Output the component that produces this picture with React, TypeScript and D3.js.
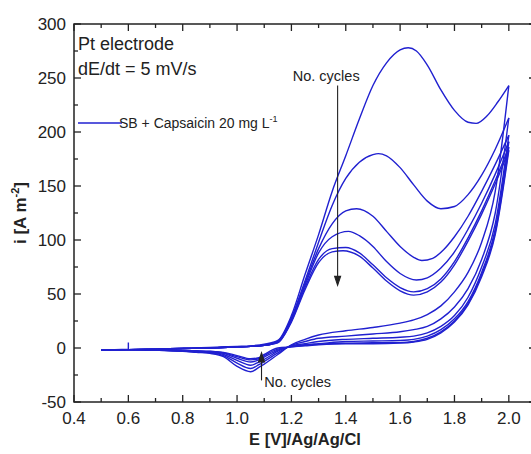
import * as d3 from 'd3';

// Cyclic voltammogram, Pt electrode, SB + Capsaicin 20 mg/L, 6 cycles
// each cycle: forward (anodic) and reverse (cathodic) branch, stored with ascending E
const start1 = [[0.6, 5], [0.6, -1], [0.55, -1.5], [0.5, -2]];

const fwd1 = [[0.5, -2], [0.6, -1.5], [0.7, -1], [0.8, -0.3], [0.9, 0.5], [1.0, 1.5], [1.05, 2], [1.1, 3.5], [1.15, 7], [1.2, 30], [1.25, 68], [1.3, 105], [1.35, 145], [1.4, 178], [1.45, 212], [1.5, 243], [1.55, 264], [1.6, 276], [1.63, 278], [1.66, 275], [1.7, 262], [1.75, 239], [1.8, 220], [1.85, 209], [1.88, 208], [1.92, 215], [1.96, 228], [2.0, 243]];
const fwd2 = [[0.5, -2], [0.6, -1.5], [0.7, -1], [0.8, -0.5], [0.9, 0], [1.0, 1], [1.05, 1.5], [1.1, 2.5], [1.15, 6], [1.2, 28], [1.25, 62], [1.3, 98], [1.35, 132], [1.4, 157], [1.45, 172], [1.5, 179], [1.52, 180], [1.55, 178], [1.6, 167], [1.65, 151], [1.7, 136], [1.75, 129], [1.8, 131], [1.85, 142], [1.9, 160], [1.95, 184], [2.0, 213]];
const fwd3 = [[0.5, -2], [0.6, -1.5], [0.7, -1], [0.8, -0.5], [0.9, 0], [1.0, 1], [1.05, 1.5], [1.1, 2.5], [1.15, 6], [1.2, 27], [1.25, 60], [1.3, 92], [1.35, 115], [1.4, 127], [1.44, 129], [1.5, 122], [1.55, 108], [1.6, 94], [1.65, 84], [1.68, 81], [1.72, 83], [1.76, 91], [1.8, 103], [1.85, 122], [1.9, 145], [1.95, 170], [2.0, 197]];
const fwd4 = [[0.5, -2], [0.6, -1.5], [0.7, -1], [0.8, -0.5], [0.9, 0], [1.0, 1], [1.05, 1.5], [1.1, 2.5], [1.15, 6], [1.2, 26], [1.25, 58], [1.3, 88], [1.35, 103], [1.41, 108], [1.45, 104], [1.5, 94], [1.55, 80], [1.6, 69], [1.66, 63], [1.7, 65], [1.75, 74], [1.8, 89], [1.85, 110], [1.9, 134], [1.95, 161], [2.0, 191]];
const fwd5 = [[0.5, -2], [0.6, -1.5], [0.7, -1], [0.8, -0.5], [0.9, 0], [1.0, 1], [1.05, 1.5], [1.1, 2.5], [1.15, 5], [1.2, 25], [1.25, 56], [1.3, 82], [1.35, 92], [1.4, 93], [1.45, 88], [1.5, 77], [1.55, 65], [1.6, 56], [1.65, 52], [1.7, 55], [1.75, 64], [1.8, 80], [1.85, 102], [1.9, 127], [1.95, 155], [2.0, 186]];
const fwd6 = [[0.5, -2], [0.6, -1.5], [0.7, -1], [0.8, -0.5], [0.9, 0], [1.0, 1], [1.05, 1.5], [1.1, 2.5], [1.15, 5], [1.2, 24], [1.25, 54], [1.3, 79], [1.35, 89], [1.39, 90], [1.45, 85], [1.5, 74], [1.55, 62], [1.6, 53], [1.65, 49], [1.7, 52], [1.75, 61], [1.8, 77], [1.85, 99], [1.9, 124], [1.95, 152], [2.0, 183]];

const rev1 = [[0.5, -1.5], [0.6, -1.5], [0.7, -2], [0.8, -3], [0.85, -4], [0.9, -5], [0.95, -8], [1.0, -17], [1.05, -22], [1.08, -18], [1.1, -15], [1.15, -6], [1.2, 3], [1.25, 8], [1.3, 12], [1.4, 16], [1.5, 19], [1.6, 23], [1.65, 26], [1.7, 31], [1.75, 39], [1.8, 52], [1.85, 70], [1.9, 98], [1.95, 145], [2.0, 243]];
const rev2 = [[0.5, -1.5], [0.6, -1.5], [0.7, -2], [0.8, -2.8], [0.85, -3.5], [0.9, -4.5], [0.95, -7], [1.0, -14], [1.05, -19], [1.08, -15.5], [1.1, -12.5], [1.15, -4.5], [1.2, 2.5], [1.25, 6], [1.3, 9], [1.4, 11], [1.5, 13], [1.6, 15], [1.65, 17], [1.7, 20], [1.75, 27], [1.8, 38], [1.85, 55], [1.9, 82], [1.95, 125], [2.0, 213]];
const rev3 = [[0.5, -1.5], [0.6, -1.5], [0.7, -2], [0.8, -2.6], [0.85, -3.2], [0.9, -4], [0.95, -6], [1.0, -11.5], [1.05, -16], [1.08, -13], [1.1, -10.5], [1.15, -3], [1.2, 2], [1.25, 4], [1.3, 6], [1.4, 8], [1.5, 9], [1.6, 10], [1.65, 11], [1.7, 14], [1.75, 20], [1.8, 30], [1.85, 47], [1.9, 75], [1.95, 115], [2.0, 197]];
const rev4 = [[0.5, -1.5], [0.6, -1.5], [0.7, -2], [0.8, -2.5], [0.85, -3], [0.9, -3.5], [0.95, -5], [1.0, -9.5], [1.05, -13], [1.08, -11], [1.1, -8.5], [1.15, -2], [1.2, 1.5], [1.25, 3], [1.3, 4], [1.4, 6], [1.5, 6.5], [1.6, 7], [1.65, 8], [1.7, 11], [1.75, 17], [1.8, 27], [1.85, 43], [1.9, 70], [1.95, 110], [2.0, 191]];
const rev5 = [[0.5, -1.5], [0.6, -1.5], [0.7, -2], [0.8, -2.4], [0.85, -2.8], [0.9, -3.2], [0.95, -4.5], [1.0, -8], [1.05, -11], [1.08, -10], [1.1, -7], [1.15, -1], [1.2, 1], [1.25, 2.5], [1.3, 3.5], [1.4, 4.5], [1.5, 5], [1.6, 5], [1.65, 6], [1.7, 9], [1.75, 15], [1.8, 25], [1.85, 41], [1.9, 68], [1.95, 107], [2.0, 186]];
const rev6 = [[0.5, -1.5], [0.6, -1.5], [0.7, -2], [0.8, -2.3], [0.85, -2.6], [0.9, -3], [0.95, -4], [1.0, -7], [1.05, -10], [1.08, -9], [1.1, -6], [1.15, 0], [1.2, 1], [1.25, 2], [1.3, 3], [1.4, 4], [1.5, 4], [1.6, 4.5], [1.65, 5.5], [1.7, 8], [1.75, 14], [1.8, 24], [1.85, 40], [1.9, 66], [1.95, 105], [2.0, 183]];

const branches = [start1, fwd1, fwd2, fwd3, fwd4, fwd5, fwd6, rev1, rev2, rev3, rev4, rev5, rev6];

const xTicks = [0.4, 0.6, 0.8, 1.0, 1.2, 1.4, 1.6, 1.8, 2.0];
const yTicks = [-50, 0, 50, 100, 150, 200, 250, 300];

const W = 531;
const H = 454;
const margin = { left: 74, top: 24, right: -5, bottom: 52 };
const FONT = '"Liberation Sans", Arial, Helvetica, sans-serif';
const BLUE = '#2020d0';
const INK = '#222';

export default function App() {
  const x = d3.scaleLinear().domain([0.4, 2.1]).range([margin.left, W - margin.right]);
  const y = d3.scaleLinear().domain([-50, 300]).range([H - margin.bottom, margin.top]);

  const line = d3.line<number[]>()
    .x(d => x(d[0]))
    .y(d => y(d[1]))
    .curve(d3.curveMonotoneX);
  const straight = d3.line<number[]>().x(d => x(d[0])).y(d => y(d[1]));

  const x0 = x.range()[0], x1 = x.range()[1];
  const y0 = y.range()[0], y1 = y.range()[1];

  // minor ticks halfway between majors
  const xMinor = xTicks.map(t => t + 0.1);
  const yMinor = yTicks.map(t => t + 25);

  const arrowDown = { x: x(1.37), from: y(243), to: y(58) };
  const arrowUp = { x: x(1.09), from: y(-30), to: y(-4.5) };

  return (
    <svg width={W} height={H} style={{ position: 'absolute', left: 0, top: 0, background: '#fff' }} fontFamily={FONT}>
      {/* curves */}
      <g fill="none" stroke={BLUE} strokeWidth={1.4} strokeLinejoin="round">
        {branches.map((b, i) => (
          <path key={i} d={(i === 0 ? straight(b) : line(b)) || ''} />
        ))}
      </g>

      {/* frame */}
      <rect x={x0} y={y1} width={x1 - x0} height={y0 - y1} fill="none" stroke={INK} strokeWidth={1.5} />

      {/* ticks on all four sides, pointing inward */}
      <g stroke={INK} strokeWidth={1.3}>
        {xTicks.map(t => (
          <g key={'xm' + t}>
            <line x1={x(t)} x2={x(t)} y1={y0} y2={y0 - 7} />
            <line x1={x(t)} x2={x(t)} y1={y1} y2={y1 + 7} />
          </g>
        ))}
        {xMinor.map(t => (
          <g key={'xn' + t}>
            <line x1={x(t)} x2={x(t)} y1={y0} y2={y0 - 4} />
            <line x1={x(t)} x2={x(t)} y1={y1} y2={y1 + 4} />
          </g>
        ))}
        {yTicks.map(t => (
          <g key={'ym' + t}>
            <line x1={x0} x2={x0 + 7} y1={y(t)} y2={y(t)} />
            <line x1={x1} x2={x1 - 7} y1={y(t)} y2={y(t)} />
          </g>
        ))}
        {yMinor.filter(t => t < 300).map(t => (
          <g key={'yn' + t}>
            <line x1={x0} x2={x0 + 4} y1={y(t)} y2={y(t)} />
            <line x1={x1} x2={x1 - 4} y1={y(t)} y2={y(t)} />
          </g>
        ))}
      </g>

      {/* tick labels */}
      <g fill={INK} fontSize={17}>
        {xTicks.map(t => (
          <text key={'xl' + t} x={x(t)} y={y0 + 22} textAnchor="middle">{t.toFixed(1)}</text>
        ))}
        {yTicks.map(t => (
          <text key={'yl' + t} x={x0 - 8} y={y(t)} dy="0.35em" textAnchor="end">{t}</text>
        ))}
      </g>

      {/* axis titles */}
      <text x={(x0 + x1) / 2} y={H - 9} textAnchor="middle" fontSize={16.5} fontWeight="bold" fill={INK}>
        E [V]/Ag/Ag/Cl
      </text>
      <text transform={`translate(26,${(y0 + y1) / 2}) rotate(-90)`} textAnchor="middle" fontSize={17} fontWeight="bold" fill={INK}>
        i [A m<tspan dy={-7} fontSize={11}>-2</tspan><tspan dy={7}>]</tspan>
      </text>

      {/* conditions */}
      <g fill={INK} fontSize={18}>
        <text x={x0 + 4} y={y1 + 26}>Pt electrode</text>
        <text x={x0 + 4} y={y1 + 51}>dE/dt = 5 mV/s</text>
      </g>

      {/* legend */}
      <line x1={x0 + 4} x2={x0 + 48} y1={123} y2={123} stroke={BLUE} strokeWidth={1.4} />
      <text x={x0 + 45} y={128} fontSize={14} fill={INK}>
        SB + Capsaicin 20 mg L<tspan dy={-6} fontSize={9}>-1</tspan>
      </text>

      {/* No. cycles annotations */}
      <g stroke={INK} strokeWidth={1.1} fill={INK}>
        <line x1={arrowDown.x} x2={arrowDown.x} y1={arrowDown.from} y2={arrowDown.to - 8} />
        <path d={`M${arrowDown.x - 3},${arrowDown.to - 9} L${arrowDown.x + 3},${arrowDown.to - 9} L${arrowDown.x},${arrowDown.to} Z`} />
        <line x1={arrowUp.x} x2={arrowUp.x} y1={arrowUp.from} y2={arrowUp.to + 8} />
        <path d={`M${arrowUp.x - 3},${arrowUp.to + 9} L${arrowUp.x + 3},${arrowUp.to + 9} L${arrowUp.x},${arrowUp.to} Z`} />
      </g>
      <g fill={INK} fontSize={14.5}>
        <text x={x(1.205)} y={81}>No. cycles</text>
        <text x={x(1.1)} y={387}>No. cycles</text>
      </g>
    </svg>
  );
}
